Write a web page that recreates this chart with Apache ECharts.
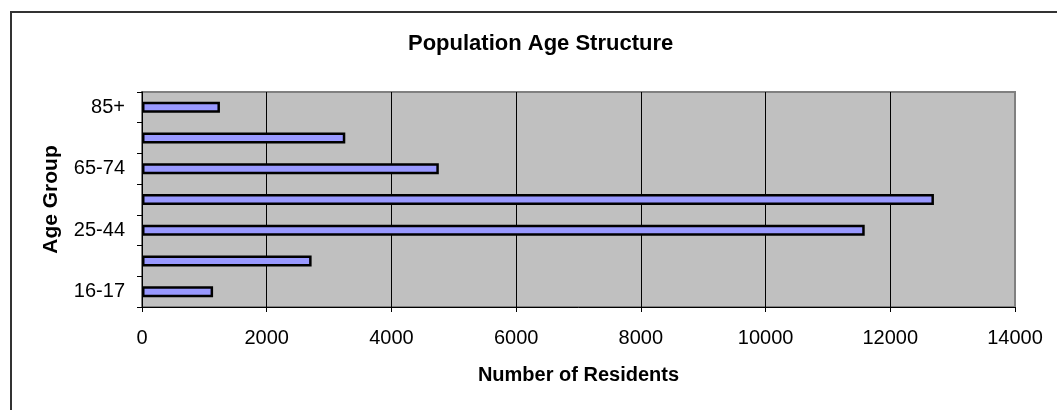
<!DOCTYPE html>
<html>
<head>
<meta charset="utf-8">
<script src="https://cdn.jsdelivr.net/npm/echarts@6/dist/echarts.min.js"></script>
<style>
  html, body { margin: 0; padding: 0; background: #fff; }
  #chart { width: 1057px; height: 410px; }
</style>
</head>
<body>
<div id="chart"></div>
<script>
// age groups, bottom to top
const ageGroups = ['16-17', '18-24', '25-44', '45-64', '65-74', '75-84', '85+'];
const residents = [1140, 2720, 11590, 12700, 4760, 3260, 1250];
const xTicks = [0, 2000, 4000, 6000, 8000, 10000, 12000, 14000];

const font = '"Liberation Sans", Arial, sans-serif';

const myChart = echarts.init(document.getElementById('chart'));

const option = {
    animation: false,
    backgroundColor: '#fff',
    title: {
        text: 'Population Age Structure',
        left: 403,
        top: 28,
        textStyle: { fontFamily: font, fontSize: 22, fontWeight: 'bold', color: '#000' }
    },
    graphic: [{
        // outer chart frame
        type: 'rect',
        shape: { x: 11, y: 12, width: 1100, height: 500 },
        style: { fill: 'none', stroke: '#333', lineWidth: 2 },
        silent: true
    }],
    grid: {
        left: 142, right: 42, top: 92, bottom: 103,
        containLabel: false,
        show: true,
        backgroundColor: '#C0C0C0',
        borderColor: '#808080',
        borderWidth: 2
    },
    xAxis: {
        type: 'value',
        min: xTicks[0],
        max: xTicks[xTicks.length - 1],
        interval: 2000,
        name: 'Number of Residents',
        nameLocation: 'middle',
        nameGap: 58,
        nameTextStyle: { fontFamily: font, fontSize: 20, fontWeight: 'bold', color: '#000' },
        axisLine: { show: true, lineStyle: { color: '#000', width: 1 } },
        axisTick: { show: true, length: 5, lineStyle: { color: '#000' } },
        axisLabel: { fontFamily: font, fontSize: 20, color: '#000', margin: 21, formatter: v => String(v) },
        splitLine: { show: true, showMinLine: false, showMaxLine: false, lineStyle: { color: '#000', width: 1 } }
    },
    yAxis: {
        type: 'category',
        data: ageGroups,
        name: 'Age Group',
        nameLocation: 'middle',
        nameGap: 80,
        nameTextStyle: { fontFamily: font, fontSize: 21, fontWeight: 'bold', color: '#000' },
        axisLine: { show: true, lineStyle: { color: '#000', width: 1 } },
        axisTick: { show: true, length: 5, interval: 0, lineStyle: { color: '#000' } },
        axisLabel: { fontFamily: font, fontSize: 20, color: '#000', margin: 17, interval: 1 },
        splitLine: { show: false }
    },
    series: [{
        type: 'bar',
        data: residents,
        barWidth: 11,
        itemStyle: { color: '#9999FF', borderColor: '#000', borderWidth: 2.5 }
    }]
};

myChart.setOption(option);
</script>
</body>
</html>
